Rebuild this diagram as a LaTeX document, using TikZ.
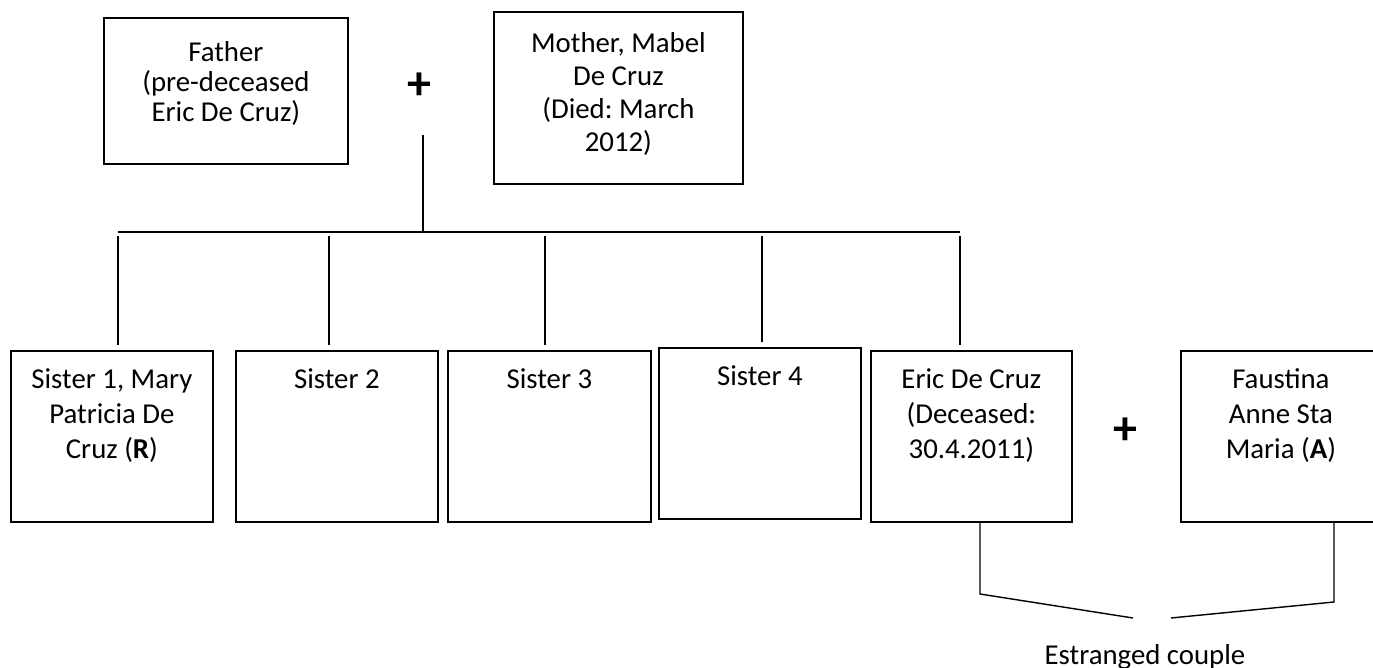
\documentclass[tikz,border=0pt]{standalone}
\usepackage{fontspec}
\setmainfont{Carlito}
\frenchspacing
\usetikzlibrary{positioning,calc}
\tikzset{
  person/.style={draw,line width=0.9pt,inner sep=0pt,align=center,anchor=north west,
                 font=\fontsize{14.4}{17.5}\selectfont,text height=19pt,text depth=66.5pt},
  threeline/.style={text height=54pt,text depth=31.5pt},
  link/.style={line width=0.7pt},
  plus/.style={inner sep=0pt,font=\fontsize{24}{24}\selectfont\bfseries}
}

\begin{document}
\begin{tikzpicture}[x=0.5pt,y=-0.5pt]
  \useasboundingbox (0,0) rectangle (1373,668);
  \clip (0,0) rectangle (1373,668);
  % parents
  \node[person,minimum width=122pt,font=\fontsize{14.4}{15}\selectfont,text height=52pt,text depth=21pt]
    (father) at (103,17) {Father\\(pre-deceased\\Eric De Cruz)};
  \node[person,minimum width=124.5pt,font=\fontsize{14.4}{16.5}\selectfont,text height=70pt,text depth=16pt]
    (mother) at (493,11) {Mother, Mabel\\De Cruz\\(Died: March\\2012)};
  \node[plus] (wed) at (419,86) {+};
  % children
  \node[person,threeline,minimum width=101pt] (s1) at (10,350) {Sister 1, Mary\\Patricia De\\Cruz (\textbf{R})};
  \node[person,minimum width=101pt] (s2) at (235,350) {Sister 2};
  \node[person,minimum width=101.5pt] (s3) at (447,350) {Sister 3};
  \node[person,minimum width=101pt] (s4) at (658,347) {Sister 4};
  \node[person,threeline,minimum width=100.5pt] (eric) at (870,350) {Eric De Cruz\\(Deceased:\\30.4.2011)};
  \node[plus] (wed2) at (1125,431) {+};
  \node[person,threeline,minimum width=100pt] (fa) at (1180,350) {Faustina\\Anne Sta\\Maria (\textbf{A})};
  \node[anchor=base,font=\fontsize{14.4}{17}\selectfont,inner sep=0pt] (est) at (1145,665) {Estranged couple};
  % family bar
  \coordinate (top) at (423,135);
  \coordinate (j1) at (118,232);
  \coordinate (j2) at (329,232);
  \coordinate (j3) at (545,232);
  \coordinate (j4) at (762,232);
  \coordinate (j5) at (960,232);
  \draw[link] (top) -- (top |- j1);
  \draw[link] (j1) -- (j5);
  \foreach \j/\n in {j1/s1,j2/s2,j3/s3,j4/s4,j5/eric}
    \draw[link] ([yshift=-2pt]\j) -- ([yshift=2.5pt]\j |- \n.north);
  % estranged couple
  \coordinate (erDrop) at (980,594);
  \coordinate (faDrop) at (1334,602);
  \coordinate (gapL) at (1133,618);
  \coordinate (gapR) at (1171,618);
  \draw[link] (eric.south -| erDrop) -- (erDrop) -- (gapL);
  \draw[link] (fa.south -| faDrop) -- (faDrop) -- (gapR);
\end{tikzpicture}
\end{document}
